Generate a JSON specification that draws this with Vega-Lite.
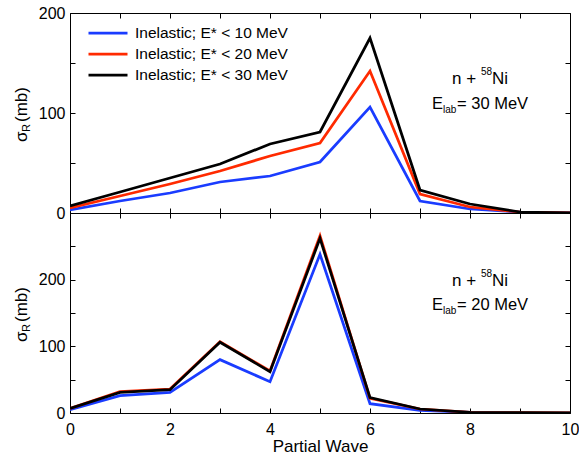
{
  "$schema": "https://vega.github.io/schema/vega-lite/v6.json",
  "padding": {"left": 12, "top": 5, "right": 5, "bottom": 1},
  "background": "white",
  "bounds": "flush",
  "config": {
    "font": "Liberation Sans",
    "view": {"stroke": null},
    "axis": {
      "domainColor": "black", "domainWidth": 1, "tickColor": "black", "tickWidth": 1, "tickSize": -5,
      "labelColor": "black", "labelFontSize": 16, "labelFont": "Liberation Sans",
      "grid": false, "labelFlush": false, "labelOverlap": false,
      "titleColor": "black", "titleFont": "Liberation Sans", "titleFontWeight": "normal", "titleFontSize": 17
    }
  },
  "datasets": {
    "d": [
      {"panel": "E30", "series": "Inelastic; E* < 10 MeV", "wave": 0, "sigma": 3},
      {"panel": "E30", "series": "Inelastic; E* < 10 MeV", "wave": 1, "sigma": 12},
      {"panel": "E30", "series": "Inelastic; E* < 10 MeV", "wave": 2, "sigma": 20},
      {"panel": "E30", "series": "Inelastic; E* < 10 MeV", "wave": 3, "sigma": 31},
      {"panel": "E30", "series": "Inelastic; E* < 10 MeV", "wave": 4, "sigma": 37},
      {"panel": "E30", "series": "Inelastic; E* < 10 MeV", "wave": 5, "sigma": 51},
      {"panel": "E30", "series": "Inelastic; E* < 10 MeV", "wave": 6, "sigma": 106},
      {"panel": "E30", "series": "Inelastic; E* < 10 MeV", "wave": 7, "sigma": 12},
      {"panel": "E30", "series": "Inelastic; E* < 10 MeV", "wave": 8, "sigma": 4},
      {"panel": "E30", "series": "Inelastic; E* < 10 MeV", "wave": 9, "sigma": 1},
      {"panel": "E30", "series": "Inelastic; E* < 10 MeV", "wave": 10, "sigma": 0},
      {"panel": "E30", "series": "Inelastic; E* < 20 MeV", "wave": 0, "sigma": 5},
      {"panel": "E30", "series": "Inelastic; E* < 20 MeV", "wave": 1, "sigma": 17},
      {"panel": "E30", "series": "Inelastic; E* < 20 MeV", "wave": 2, "sigma": 29},
      {"panel": "E30", "series": "Inelastic; E* < 20 MeV", "wave": 3, "sigma": 42},
      {"panel": "E30", "series": "Inelastic; E* < 20 MeV", "wave": 4, "sigma": 57},
      {"panel": "E30", "series": "Inelastic; E* < 20 MeV", "wave": 5, "sigma": 70},
      {"panel": "E30", "series": "Inelastic; E* < 20 MeV", "wave": 6, "sigma": 142},
      {"panel": "E30", "series": "Inelastic; E* < 20 MeV", "wave": 7, "sigma": 19},
      {"panel": "E30", "series": "Inelastic; E* < 20 MeV", "wave": 8, "sigma": 6},
      {"panel": "E30", "series": "Inelastic; E* < 20 MeV", "wave": 9, "sigma": 1},
      {"panel": "E30", "series": "Inelastic; E* < 20 MeV", "wave": 10, "sigma": 0},
      {"panel": "E30", "series": "Inelastic; E* < 30 MeV", "wave": 0, "sigma": 7},
      {"panel": "E30", "series": "Inelastic; E* < 30 MeV", "wave": 1, "sigma": 21},
      {"panel": "E30", "series": "Inelastic; E* < 30 MeV", "wave": 2, "sigma": 35},
      {"panel": "E30", "series": "Inelastic; E* < 30 MeV", "wave": 3, "sigma": 49},
      {"panel": "E30", "series": "Inelastic; E* < 30 MeV", "wave": 4, "sigma": 69},
      {"panel": "E30", "series": "Inelastic; E* < 30 MeV", "wave": 5, "sigma": 81},
      {"panel": "E30", "series": "Inelastic; E* < 30 MeV", "wave": 6, "sigma": 175},
      {"panel": "E30", "series": "Inelastic; E* < 30 MeV", "wave": 7, "sigma": 23},
      {"panel": "E30", "series": "Inelastic; E* < 30 MeV", "wave": 8, "sigma": 9},
      {"panel": "E30", "series": "Inelastic; E* < 30 MeV", "wave": 9, "sigma": 1},
      {"panel": "E30", "series": "Inelastic; E* < 30 MeV", "wave": 10, "sigma": 0},
      {"panel": "E20", "series": "Inelastic; E* < 10 MeV", "wave": 0, "sigma": 5},
      {"panel": "E20", "series": "Inelastic; E* < 10 MeV", "wave": 1, "sigma": 26},
      {"panel": "E20", "series": "Inelastic; E* < 10 MeV", "wave": 2, "sigma": 31},
      {"panel": "E20", "series": "Inelastic; E* < 10 MeV", "wave": 3, "sigma": 80},
      {"panel": "E20", "series": "Inelastic; E* < 10 MeV", "wave": 4, "sigma": 47},
      {"panel": "E20", "series": "Inelastic; E* < 10 MeV", "wave": 5, "sigma": 238},
      {"panel": "E20", "series": "Inelastic; E* < 10 MeV", "wave": 6, "sigma": 14},
      {"panel": "E20", "series": "Inelastic; E* < 10 MeV", "wave": 7, "sigma": 4},
      {"panel": "E20", "series": "Inelastic; E* < 10 MeV", "wave": 8, "sigma": 1},
      {"panel": "E20", "series": "Inelastic; E* < 10 MeV", "wave": 9, "sigma": 0},
      {"panel": "E20", "series": "Inelastic; E* < 10 MeV", "wave": 10, "sigma": 0},
      {"panel": "E20", "series": "Inelastic; E* < 20 MeV", "wave": 0, "sigma": 7},
      {"panel": "E20", "series": "Inelastic; E* < 20 MeV", "wave": 1, "sigma": 32},
      {"panel": "E20", "series": "Inelastic; E* < 20 MeV", "wave": 2, "sigma": 36},
      {"panel": "E20", "series": "Inelastic; E* < 20 MeV", "wave": 3, "sigma": 107},
      {"panel": "E20", "series": "Inelastic; E* < 20 MeV", "wave": 4, "sigma": 63},
      {"panel": "E20", "series": "Inelastic; E* < 20 MeV", "wave": 5, "sigma": 266},
      {"panel": "E20", "series": "Inelastic; E* < 20 MeV", "wave": 6, "sigma": 22},
      {"panel": "E20", "series": "Inelastic; E* < 20 MeV", "wave": 7, "sigma": 6},
      {"panel": "E20", "series": "Inelastic; E* < 20 MeV", "wave": 8, "sigma": 1},
      {"panel": "E20", "series": "Inelastic; E* < 20 MeV", "wave": 9, "sigma": 0.5},
      {"panel": "E20", "series": "Inelastic; E* < 20 MeV", "wave": 10, "sigma": 0},
      {"panel": "E20", "series": "Inelastic; E* < 30 MeV", "wave": 0, "sigma": 7},
      {"panel": "E20", "series": "Inelastic; E* < 30 MeV", "wave": 1, "sigma": 31},
      {"panel": "E20", "series": "Inelastic; E* < 30 MeV", "wave": 2, "sigma": 35},
      {"panel": "E20", "series": "Inelastic; E* < 30 MeV", "wave": 3, "sigma": 106},
      {"panel": "E20", "series": "Inelastic; E* < 30 MeV", "wave": 4, "sigma": 62},
      {"panel": "E20", "series": "Inelastic; E* < 30 MeV", "wave": 5, "sigma": 262},
      {"panel": "E20", "series": "Inelastic; E* < 30 MeV", "wave": 6, "sigma": 23},
      {"panel": "E20", "series": "Inelastic; E* < 30 MeV", "wave": 7, "sigma": 6},
      {"panel": "E20", "series": "Inelastic; E* < 30 MeV", "wave": 8, "sigma": 1},
      {"panel": "E20", "series": "Inelastic; E* < 30 MeV", "wave": 9, "sigma": 0.5},
      {"panel": "E20", "series": "Inelastic; E* < 30 MeV", "wave": 10, "sigma": 0}
    ]
  },
  "spacing": 0,
  "resolve": {"scale": {"x": "independent", "y": "independent", "color": "independent"}, "legend": {"color": "independent"}},
  "vconcat": [
    {
      "width": 500, "height": 200,
      "resolve": {"axis": {"x": "independent", "y": "independent"}},
      "layer": [
        {
          "data": {"name": "d"},
          "transform": [{"filter": "datum.panel == 'E30'"}],
          "mark": {"type": "line", "strokeWidth": 2.75, "clip": true},
          "encoding": {
            "x": {"field": "wave", "type": "quantitative", "scale": {"domain": [0, 10], "nice": false},
                  "axis": {"values": [0,1,2,3,4,5,6,7,8,9,10], "labels": false, "title": null}},
            "y": {"field": "sigma", "type": "quantitative", "scale": {"domain": [0, 200], "nice": false},
                  "axis": {"values": [0,50,100,150,200], "labelExpr": "datum.value % 100 == 0 ? datum.label : ''", "labelPadding": 10, "title": null}},
            "color": {"field": "series", "type": "nominal",
                      "scale": {"domain": ["Inelastic; E* < 10 MeV", "Inelastic; E* < 20 MeV", "Inelastic; E* < 30 MeV"], "range": ["#1a3cff", "#ff2a00", "#000000"]},
                      "legend": {"orient": "none", "legendX": 30, "legendY": 12, "title": null,
                                 "symbolType": "M-3,0H3", "symbolSize": 169, "symbolStrokeWidth": 2.75,
                                 "labelFontSize": 15.5, "labelFont": "Liberation Sans", "labelColor": "black",
                                 "labelOffset": 19, "rowPadding": 4, "padding": 0, "labelLimit": 300}}
          }
        },
        {
          "data": {"name": "d"},
          "transform": [{"filter": "datum.panel == 'E30'"}],
          "mark": {"type": "point", "opacity": 0},
          "encoding": {
            "x": {"field": "wave", "type": "quantitative", "axis": {"orient": "top", "values": [0,1,2,3,4,5,6,7,8,9,10], "labels": false, "title": null}},
            "y": {"field": "sigma", "type": "quantitative", "axis": {"orient": "right", "values": [0,50,100,150,200], "labels": false, "title": null}}
          }
        },
        {
          "data": {"values": [{"label": "n +"}]},
          "mark": {"type": "text", "fontSize": 17, "align": "left", "baseline": "alphabetic", "color": "black"},
          "encoding": {"x": {"datum": 7.64, "type": "quantitative", "axis": null}, "y": {"datum": 129, "type": "quantitative", "axis": null}, "text": {"field": "label"}}
        },
        {
          "data": {"values": [{"label": "58"}]},
          "mark": {"type": "text", "fontSize": 10, "align": "left", "baseline": "alphabetic", "color": "black"},
          "encoding": {"x": {"datum": 8.22, "type": "quantitative", "axis": null}, "y": {"datum": 138, "type": "quantitative", "axis": null}, "text": {"field": "label"}}
        },
        {
          "data": {"values": [{"label": "Ni"}]},
          "mark": {"type": "text", "fontSize": 17, "align": "left", "baseline": "alphabetic", "color": "black"},
          "encoding": {"x": {"datum": 8.44, "type": "quantitative", "axis": null}, "y": {"datum": 129, "type": "quantitative", "axis": null}, "text": {"field": "label"}}
        },
        {
          "data": {"values": [{"label": "E"}]},
          "mark": {"type": "text", "fontSize": 16.5, "align": "left", "baseline": "alphabetic", "color": "black"},
          "encoding": {"x": {"datum": 7.24, "type": "quantitative", "axis": null}, "y": {"datum": 104, "type": "quantitative", "axis": null}, "text": {"field": "label"}}
        },
        {
          "data": {"values": [{"label": "lab"}]},
          "mark": {"type": "text", "fontSize": 10, "align": "left", "baseline": "alphabetic", "color": "black"},
          "encoding": {"x": {"datum": 7.46, "type": "quantitative", "axis": null}, "y": {"datum": 100, "type": "quantitative", "axis": null}, "text": {"field": "label"}}
        },
        {
          "data": {"values": [{"label": "= 30 MeV"}]},
          "mark": {"type": "text", "fontSize": 16.5, "align": "left", "baseline": "alphabetic", "color": "black"},
          "encoding": {"x": {"datum": 7.74, "type": "quantitative", "axis": null}, "y": {"datum": 104, "type": "quantitative", "axis": null}, "text": {"field": "label"}}
        },
        {
          "data": {"values": [{"label": "σ"}]},
          "mark": {"type": "text", "fontSize": 17, "align": "left", "baseline": "alphabetic", "angle": 270, "color": "black"},
          "encoding": {"x": {"datum": -0.86, "type": "quantitative", "axis": null}, "y": {"datum": 71, "type": "quantitative", "axis": null}, "text": {"field": "label"}}
        },
        {
          "data": {"values": [{"label": "R"}]},
          "mark": {"type": "text", "fontSize": 11, "align": "left", "baseline": "alphabetic", "angle": 270, "color": "black"},
          "encoding": {"x": {"datum": -0.8, "type": "quantitative", "axis": null}, "y": {"datum": 81, "type": "quantitative", "axis": null}, "text": {"field": "label"}}
        },
        {
          "data": {"values": [{"label": "(mb)"}]},
          "mark": {"type": "text", "fontSize": 17, "align": "left", "baseline": "alphabetic", "angle": 270, "color": "black"},
          "encoding": {"x": {"datum": -0.86, "type": "quantitative", "axis": null}, "y": {"datum": 91, "type": "quantitative", "axis": null}, "text": {"field": "label"}}
        }
      ]
    },
    {
      "width": 500, "height": 200,
      "resolve": {"axis": {"x": "independent", "y": "independent"}},
      "layer": [
        {
          "data": {"name": "d"},
          "transform": [{"filter": "datum.panel == 'E20'"}],
          "mark": {"type": "line", "strokeWidth": 2.75, "clip": true},
          "encoding": {
            "x": {"field": "wave", "type": "quantitative", "scale": {"domain": [0, 10], "nice": false},
                  "axis": {"values": [0,1,2,3,4,5,6,7,8,9,10], "labelExpr": "datum.value % 2 == 0 ? datum.label : ''", "labelPadding": 13, "title": "Partial Wave", "titlePadding": 1}},
            "y": {"field": "sigma", "type": "quantitative", "scale": {"domain": [0, 300], "nice": false},
                  "axis": {"values": [0,50,100,150,200,250,300], "labelExpr": "(datum.value % 100 == 0 && datum.value < 300) ? datum.label : ''", "labelPadding": 10, "title": null}},
            "color": {"field": "series", "type": "nominal",
                      "scale": {"domain": ["Inelastic; E* < 10 MeV", "Inelastic; E* < 20 MeV", "Inelastic; E* < 30 MeV"], "range": ["#1a3cff", "#ff2a00", "#000000"]},
                      "legend": null}
          }
        },
        {
          "data": {"name": "d"},
          "transform": [{"filter": "datum.panel == 'E20'"}],
          "mark": {"type": "point", "opacity": 0},
          "encoding": {
            "x": {"field": "wave", "type": "quantitative", "axis": {"orient": "top", "values": [0,1,2,3,4,5,6,7,8,9,10], "labels": false, "title": null}},
            "y": {"field": "sigma", "type": "quantitative", "axis": {"orient": "right", "values": [0,50,100,150,200,250,300], "labels": false, "title": null}}
          }
        },
        {
          "data": {"values": [{"label": "n +"}]},
          "mark": {"type": "text", "fontSize": 17, "align": "left", "baseline": "alphabetic", "color": "black"},
          "encoding": {"x": {"datum": 7.64, "type": "quantitative", "axis": null}, "y": {"datum": 191, "type": "quantitative", "axis": null}, "text": {"field": "label"}}
        },
        {
          "data": {"values": [{"label": "58"}]},
          "mark": {"type": "text", "fontSize": 10, "align": "left", "baseline": "alphabetic", "color": "black"},
          "encoding": {"x": {"datum": 8.22, "type": "quantitative", "axis": null}, "y": {"datum": 204, "type": "quantitative", "axis": null}, "text": {"field": "label"}}
        },
        {
          "data": {"values": [{"label": "Ni"}]},
          "mark": {"type": "text", "fontSize": 17, "align": "left", "baseline": "alphabetic", "color": "black"},
          "encoding": {"x": {"datum": 8.44, "type": "quantitative", "axis": null}, "y": {"datum": 191, "type": "quantitative", "axis": null}, "text": {"field": "label"}}
        },
        {
          "data": {"values": [{"label": "E"}]},
          "mark": {"type": "text", "fontSize": 16.5, "align": "left", "baseline": "alphabetic", "color": "black"},
          "encoding": {"x": {"datum": 7.24, "type": "quantitative", "axis": null}, "y": {"datum": 154.5, "type": "quantitative", "axis": null}, "text": {"field": "label"}}
        },
        {
          "data": {"values": [{"label": "lab"}]},
          "mark": {"type": "text", "fontSize": 10, "align": "left", "baseline": "alphabetic", "color": "black"},
          "encoding": {"x": {"datum": 7.46, "type": "quantitative", "axis": null}, "y": {"datum": 148.5, "type": "quantitative", "axis": null}, "text": {"field": "label"}}
        },
        {
          "data": {"values": [{"label": "= 20 MeV"}]},
          "mark": {"type": "text", "fontSize": 16.5, "align": "left", "baseline": "alphabetic", "color": "black"},
          "encoding": {"x": {"datum": 7.74, "type": "quantitative", "axis": null}, "y": {"datum": 154.5, "type": "quantitative", "axis": null}, "text": {"field": "label"}}
        },
        {
          "data": {"values": [{"label": "σ"}]},
          "mark": {"type": "text", "fontSize": 17, "align": "left", "baseline": "alphabetic", "angle": 270, "color": "black"},
          "encoding": {"x": {"datum": -0.86, "type": "quantitative", "axis": null}, "y": {"datum": 106.5, "type": "quantitative", "axis": null}, "text": {"field": "label"}}
        },
        {
          "data": {"values": [{"label": "R"}]},
          "mark": {"type": "text", "fontSize": 11, "align": "left", "baseline": "alphabetic", "angle": 270, "color": "black"},
          "encoding": {"x": {"datum": -0.8, "type": "quantitative", "axis": null}, "y": {"datum": 121.5, "type": "quantitative", "axis": null}, "text": {"field": "label"}}
        },
        {
          "data": {"values": [{"label": "(mb)"}]},
          "mark": {"type": "text", "fontSize": 17, "align": "left", "baseline": "alphabetic", "angle": 270, "color": "black"},
          "encoding": {"x": {"datum": -0.86, "type": "quantitative", "axis": null}, "y": {"datum": 136.5, "type": "quantitative", "axis": null}, "text": {"field": "label"}}
        }
      ]
    }
  ]
}
